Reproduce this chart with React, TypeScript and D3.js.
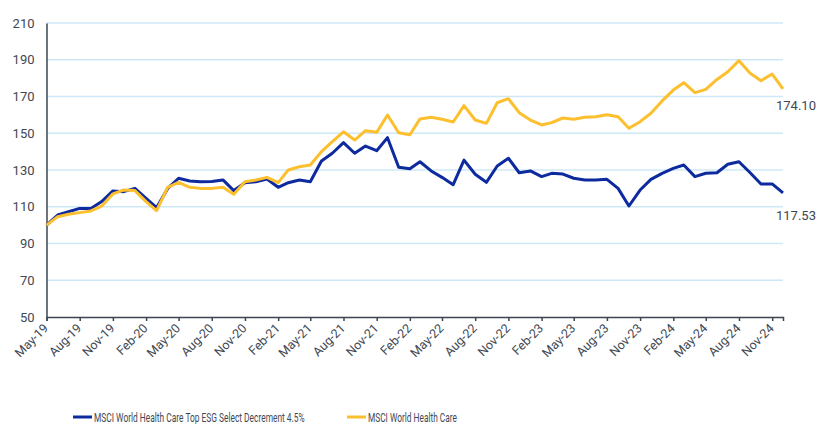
import React, { useRef, useEffect } from 'react'
import * as d3 from 'd3'

// monthly index levels, May-19 .. Dec-24
const months = d3.timeMonth.range(new Date(2019, 4, 1), new Date(2025, 0, 1))

const esgSelect = [
  100, 105.5, 107.3, 109.1, 109, 112.8, 118.6, 118.2, 120, 114.6, 109.5, 120,
  125.5, 124, 123.6, 123.8, 124.6, 118.8, 123.1, 123.6, 125.1, 120.6, 123.1, 124.6,
  123.6, 134.9, 139.1, 144.9, 139.1, 143, 140.5, 147.6, 131.5, 130.7, 134.5, 129.5,
  126, 122, 135.4, 127.7, 123.3, 132.2, 136.4, 128.5, 129.5, 126.4, 128.2, 127.8,
  125.5, 124.6, 124.6, 124.9, 120, 110.4, 119.1, 124.9, 128.2, 130.9, 132.7, 126.4,
  128.2, 128.5, 133.1, 134.5, 128.5, 122.4, 122.4, 117.53,
]

const healthCare = [
  100, 104.6, 105.9, 106.8, 107.7, 110.4, 117, 119.1, 118.8, 112.8, 107.9, 120.6,
  123.3, 120.6, 120, 120, 120.6, 116.8, 123.6, 124.6, 126, 123.1, 130, 131.8,
  132.7, 140, 145.4, 150.8, 146.3, 151.4, 150.5, 159.9, 150.3, 149.2, 157.8, 158.7,
  157.6, 156.1, 165, 157.2, 155.4, 166.6, 168.8, 161.2, 157.2, 154.5, 155.8, 158.3,
  157.6, 158.7, 159, 160.1, 159, 152.7, 156.3, 160.9, 167.6, 173.5, 177.5, 172.1,
  173.9, 179.3, 183.5, 189.5, 182.6, 178.6, 182.2, 174.1,
]

const yTicks = [50, 70, 90, 110, 130, 150, 170, 190, 210]
const xTickLabels = [
  'May-19', 'Aug-19', 'Nov-19', 'Feb-20', 'May-20', 'Aug-20', 'Nov-20', 'Feb-21',
  'May-21', 'Aug-21', 'Nov-21', 'Feb-22', 'May-22', 'Aug-22', 'Nov-22', 'Feb-23',
  'May-23', 'Aug-23', 'Nov-23', 'Feb-24', 'May-24', 'Aug-24', 'Nov-24',
]

const seriesNames = ['MSCI World Health Care Top ESG Select Decrement 4.5%', 'MSCI World Health Care']
const seriesColors = ['#0d2a9e', '#fcbf2e']
const endLabels = ['117.53', '174.10']

const W = 817
const H = 424
const textColor = '#3e4853'

const App = () => {
  const svgRef = useRef(null)

  useEffect(() => {
    const svg = d3.select(svgRef.current)
    svg.selectAll('*').remove()

    const x = d3
      .scaleTime()
      .domain([months[0], months[months.length - 1]])
      .range([46.5, 783])
    const y = d3.scaleLinear().domain([50, 210]).range([317, 23])

    // gridlines
    svg
      .append('g')
      .selectAll('line')
      .data(yTicks.slice(1))
      .enter()
      .append('line')
      .attr('x1', 46.5)
      .attr('x2', 783)
      .attr('y1', (d) => y(d))
      .attr('y2', (d) => y(d))
      .attr('stroke', '#cfe8f8')
      .attr('stroke-width', 1.5)

    // y axis
    const yAxis = svg
      .append('g')
      .attr('transform', 'translate(46.5,0)')
      .call(d3.axisLeft(y).tickValues(yTicks).tickSize(0).tickPadding(12))
    yAxis.select('.domain').attr('stroke', '#3b4650').attr('stroke-width', 1.5)
    yAxis
      .selectAll('text')
      .attr('fill', textColor)
      .style('font', '13px Roboto, sans-serif')

    // x axis
    const tickDates = months.filter((_, i) => i % 3 === 0)
    const xAxis = svg
      .append('g')
      .attr('transform', 'translate(0,317)')
      .call(
        d3
          .axisBottom(x)
          .tickValues(tickDates)
          .tickSizeOuter(0)
          .tickSize(4)
          .tickFormat((_, i) => xTickLabels[i])
      )
    xAxis.select('.domain').attr('stroke', '#3b4650').attr('stroke-width', 1.5)
    xAxis.selectAll('.tick line').attr('stroke', '#3b4650').attr('stroke-width', 1.5)
    xAxis
      .selectAll('text')
      .attr('fill', textColor)
      .style('font', '12.5px Roboto, sans-serif')
      .attr('text-anchor', 'end')
      .attr('dy', null)
      .attr('y', 0)
      .attr('transform', 'translate(2,12) rotate(-45)')

    // lines
    const line = d3
      .line<number>()
      .x((_, i) => x(months[i]))
      .y((d) => y(d))

    ;[esgSelect, healthCare].forEach((vals, k) => {
      svg
        .append('path')
        .datum(vals)
        .attr('d', line)
        .attr('fill', 'none')
        .attr('stroke', seriesColors[k])
        .attr('stroke-width', 3)
        .attr('stroke-linejoin', 'round')
    })

    // end value labels
    svg
      .append('text')
      .attr('x', 776)
      .attr('y', y(esgSelect[esgSelect.length - 1]) + 27)
      .attr('fill', textColor)
      .style('font', '13px Roboto, sans-serif')
      .text(endLabels[0])
    svg
      .append('text')
      .attr('x', 776)
      .attr('y', y(healthCare[healthCare.length - 1]) + 21)
      .attr('fill', textColor)
      .style('font', '13px Roboto, sans-serif')
      .text(endLabels[1])

    // legend (condensed text via horizontal scale)
    const legendX = [73, 347]
    const legendW = [211, 89]
    seriesNames.forEach((name, k) => {
      const g = svg.append('g').attr('transform', `translate(${legendX[k]},417)`)
      g.append('line')
        .attr('x1', 0)
        .attr('x2', 19)
        .attr('stroke', seriesColors[k])
        .attr('stroke-width', 3)
      const t = g
        .append('text')
        .attr('y', 4.5)
        .attr('fill', textColor)
        .style('font', '12.5px Roboto, sans-serif')
        .text(name)
      const natural = (t.node() as SVGTextElement).getComputedTextLength() || legendW[k]
      t.attr('transform', `translate(21,0) scale(${legendW[k] / natural},1)`)
    })
  }, [])

  return (
    <svg
      ref={svgRef}
      width={W}
      height={H}
      style={{ position: 'absolute', left: 0, top: 0, display: 'block', background: '#fff' }}
    />
  )
}

export default App
